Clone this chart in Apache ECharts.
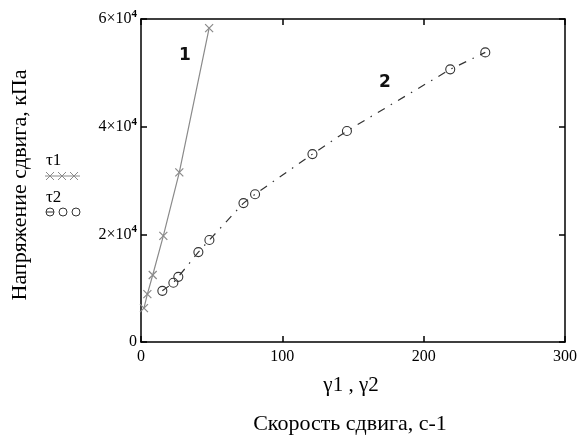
<!DOCTYPE html>
<html>
<head>
<meta charset="utf-8">
<script src="https://cdn.jsdelivr.net/npm/echarts@6/dist/echarts.min.js"></script>
<style>html,body{margin:0;padding:0;background:#fff;}#c{width:581px;height:437px;}</style>
</head>
<body>
<div id="c"></div>
<script>
// Series 1 (τ1 vs γ1)
const gamma1 = [2.1, 4.5, 8.3, 15.8, 27.1, 48.2];
const tau1 = [6300, 8900, 12450, 19700, 31500, 58300];
// Series 2 (τ2 vs γ2)
const gamma2 = [15.1, 22.9, 26.4, 40.6, 48.4, 72.5, 80.7, 121.3, 145.7, 218.8, 243.6];
const tau2 = [9500, 11000, 12100, 16700, 18950, 25800, 27450, 34900, 39200, 50650, 53800];
// Axis ticks
const xTicks = [0, 100, 200, 300];
const yTicks = [0, 20000, 40000, 60000];
const yTickLabels = ['0', '2×10', '4×10', '6×10'];
const yTickExp = ['', '4', '4', '4'];
const seriesNames = ['τ1', 'τ2'];
const xTitle = 'γ1 , γ2';
const xTitle2 = 'Скорость сдвига, с-1';
const yTitle = 'Напряжение сдвига, кПа';
const curveLabels = ['1', '2'];

const serif = '"Liberation Serif", "DejaVu Serif", serif';
const chart = echarts.init(document.getElementById('c'));
const xPath = 'path://M0,0L10,10M10,0L0,10';

const axisLine = {show: true, onZero: false, lineStyle: {color: '#000', width: 1.5}};
const axisTick = {show: true, inside: true, length: 6, lineStyle: {color: '#000', width: 1.5}};

function cross(cx, cy, r, color) {
  return [
    {type: 'line', shape: {x1: cx - r, y1: cy - r, x2: cx + r, y2: cy + r}, style: {stroke: color, lineWidth: 1}},
    {type: 'line', shape: {x1: cx + r, y1: cy - r, x2: cx - r, y2: cy + r}, style: {stroke: color, lineWidth: 1}}
  ];
}

chart.setOption({
  animation: false,
  backgroundColor: '#fff',
  grid: {left: 141, right: 16, top: 19, bottom: 95},
  xAxis: [
    {type: 'value', min: xTicks[0], max: xTicks[xTicks.length-1], interval: 100, position: 'bottom',
     axisLine, axisTick, splitLine: {show: false},
     axisLabel: {color: '#000', fontFamily: serif, fontSize: 16, margin: 7}},
    {type: 'value', min: xTicks[0], max: xTicks[xTicks.length-1], interval: 100, position: 'top',
     axisLine, axisTick, splitLine: {show: false}, axisLabel: {show: false}}
  ],
  yAxis: [
    {type: 'value', min: yTicks[0], max: yTicks[yTicks.length-1], interval: 20000, position: 'left',
     axisLine, axisTick, splitLine: {show: false},
     axisLabel: {color: '#000', fontFamily: serif, fontSize: 16, margin: 4,
       formatter: function (v) {
         const i = yTicks.indexOf(v);
         if (i < 0) return '';
         return yTickExp[i] ? '{b|' + yTickLabels[i] + '}{s|' + yTickExp[i] + '}' : '{b|' + yTickLabels[i] + '}';
       },
       rich: {
         b: {fontFamily: serif, fontSize: 16, color: '#000'},
         s: {fontFamily: serif, fontSize: 11, fontWeight: 'bold', color: '#000', padding: [0, 0, 10, 0]}
       }}},
    {type: 'value', min: yTicks[0], max: yTicks[yTicks.length-1], interval: 20000, position: 'right',
     axisLine, axisTick, splitLine: {show: false}, axisLabel: {show: false}}
  ],
  series: [
    {name: seriesNames[0], type: 'line', data: gamma1.map((x, i) => [x, tau1[i]]),
     symbol: xPath, symbolSize: 8,
     lineStyle: {color: '#8a8a8a', width: 1.2, type: 'solid'},
     itemStyle: {color: 'none', borderColor: '#8a8a8a', borderWidth: 1.2}, z: 3},
    {name: seriesNames[1], type: 'line', data: gamma2.map((x, i) => [x, tau2[i]]),
     symbol: 'circle', symbolSize: 9,
     lineStyle: {color: '#333', width: 1.2, type: [8, 7, 1.5, 7]},
     itemStyle: {color: 'rgba(0,0,0,0)', borderColor: '#333', borderWidth: 1.1}, z: 3}
  ],
  graphic: [
    {type: 'text', x: 185, y: 56, style: {text: curveLabels[0], font: 'bold 17px "DejaVu Sans", sans-serif', fill: '#111', align: 'center', verticalAlign: 'middle'}},
    {type: 'text', x: 385, y: 83, style: {text: curveLabels[1], font: 'bold 17px "DejaVu Sans", sans-serif', fill: '#111', align: 'center', verticalAlign: 'middle'}},
    {type: 'text', x: 351, y: 385, style: {text: xTitle, font: '21px ' + serif, fill: '#000', align: 'center', verticalAlign: 'middle'}},
    {type: 'text', x: 350, y: 424, style: {text: xTitle2, font: '22px ' + serif, fill: '#000', align: 'center', verticalAlign: 'middle'}},
    {type: 'text', x: 20, y: 185, rotation: Math.PI / 2, style: {text: yTitle, font: '22px ' + serif, fill: '#000', align: 'center', verticalAlign: 'middle'}},
    // legend
    {type: 'text', x: 46, y: 161, style: {text: seriesNames[0], font: '17px ' + serif, fill: '#000', align: 'left', verticalAlign: 'middle'}},
    {type: 'line', shape: {x1: 45, y1: 176, x2: 80, y2: 176}, style: {stroke: '#8a8a8a', lineWidth: 1}},
    ...cross(50, 176, 4, '#8a8a8a'),
    ...cross(62, 176, 4, '#8a8a8a'),
    ...cross(74, 176, 4, '#8a8a8a'),
    {type: 'text', x: 46, y: 198, style: {text: seriesNames[1], font: '17px ' + serif, fill: '#000', align: 'left', verticalAlign: 'middle'}},
    {type: 'line', shape: {x1: 46, y1: 212, x2: 54, y2: 212}, style: {stroke: '#333', lineWidth: 1}},
    {type: 'circle', shape: {cx: 50, cy: 212, r: 4}, style: {stroke: '#333', fill: 'none', lineWidth: 1}},
    {type: 'circle', shape: {cx: 63, cy: 212, r: 4}, style: {stroke: '#333', fill: 'none', lineWidth: 1}},
    {type: 'circle', shape: {cx: 76, cy: 212, r: 4}, style: {stroke: '#333', fill: 'none', lineWidth: 1}}
  ]
});
</script>
</body>
</html>
